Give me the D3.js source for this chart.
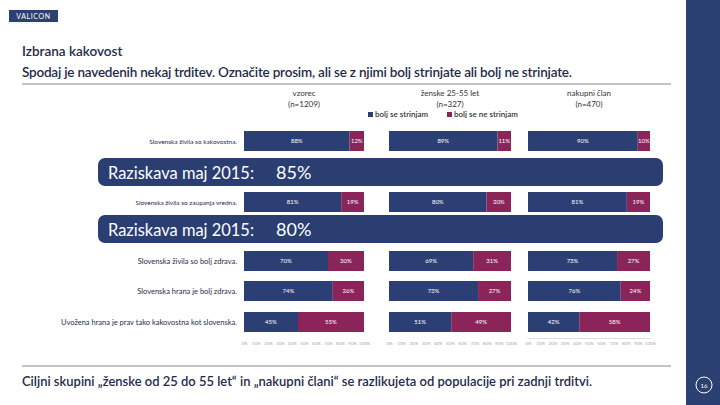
<!DOCTYPE html>
<html>
<head>
<meta charset="utf-8">
<script src="https://cdn.jsdelivr.net/npm/d3@7"></script>
<style>
  body { margin: 0; background: #fff; }
  svg { display: block; font-family: Lato, "Open Sans", sans-serif; }
</style>
</head>
<body>
<svg width="720" height="405"></svg>
<script>
const categories = [
  'Slovenska živila so kakovostna.',
  'Slovenska živila so zaupanja vredna.',
  'Slovenska živila so bolj zdrava.',
  'Slovenska hrana je bolj zdrava.',
  'Uvožena hrana je prav tako kakovostna kot slovenska.'
];
const groups = ['vzorec', 'ženske 25-55 let', 'nakupni član'];
const groupN = ['(n=1209)', '(n=327)', '(n=470)'];
const agreeVzorec = [88, 81, 70, 74, 45];
const disagreeVzorec = [12, 19, 30, 26, 55];
const agreeZenske = [89, 80, 69, 73, 51];
const disagreeZenske = [11, 20, 31, 27, 49];
const agreeNakupni = [90, 81, 73, 76, 42];
const disagreeNakupni = [10, 19, 27, 24, 58];
const seriesNames = ['bolj se strinjam', 'bolj se ne strinjam'];
const survey2015 = ['85%', '80%'];
const ticks = [0, 10, 20, 30, 40, 50, 60, 70, 80, 90, 100];

const navy = '#2c3f74';
const wine = '#8a2459';
const ink = '#1f2b4b';

const svg = d3.select('svg');

// sidebar and logo
svg.append('rect').attr('x', 686).attr('y', 0).attr('width', 34).attr('height', 405).attr('fill', '#2b4171');
svg.append('circle').attr('cx', 704).attr('cy', 385).attr('r', 8)
  .attr('fill', 'none').attr('stroke', '#fff').attr('stroke-width', 1);
svg.append('text').attr('x', 704).attr('y', 387.5).attr('text-anchor', 'middle')
  .attr('font-size', 6).attr('fill', '#fff').text('16');
svg.append('rect').attr('x', 9).attr('y', 10).attr('width', 49).attr('height', 12).attr('fill', '#2b4171');
svg.append('text').attr('x', 33.5).attr('y', 19).attr('text-anchor', 'middle')
  .attr('font-size', 7).attr('fill', '#fff').attr('letter-spacing', 0.6).text('VALICON');

// titles
svg.append('text').attr('x', 22).attr('y', 56).attr('font-size', 13.5).attr('font-weight', 600)
  .attr('fill', ink).text('Izbrana kakovost');
svg.append('text').attr('x', 22).attr('y', 77).attr('font-size', 13.5).attr('font-weight', 600)
  .attr('fill', ink).attr('textLength', 550).attr('lengthAdjust', 'spacing')
  .text('Spodaj je navedenih nekaj trditev. Označite prosim, ali se z njimi bolj strinjate ali bolj ne strinjate.');
svg.append('line').attr('x1', 22).attr('x2', 671).attr('y1', 84).attr('y2', 84)
  .attr('stroke', '#888').attr('stroke-width', 1);

// bottom note
svg.append('line').attr('x1', 22).attr('x2', 671).attr('y1', 366).attr('y2', 366)
  .attr('stroke', '#888').attr('stroke-width', 1);
svg.append('text').attr('x', 22).attr('y', 386).attr('font-size', 13).attr('font-weight', 600)
  .attr('fill', ink).attr('textLength', 570).attr('lengthAdjust', 'spacingAndGlyphs')
  .text('Ciljni skupini „ženske od 25 do 55 let“ in „nakupni člani“ se razlikujeta od populacije pri zadnji trditvi.');

// row positions (rows 1-2 are spread out to make room for the 2015 banners)
const y = d3.scaleOrdinal().domain(categories).range([141, 202, 261, 291, 322]);
const barH = 20;

const panels = [
  { name: groups[0], n: groupN[0], agree: agreeVzorec, disagree: disagreeVzorec, range: [244, 364] },
  { name: groups[1], n: groupN[1], agree: agreeZenske, disagree: disagreeZenske, range: [389, 511] },
  { name: groups[2], n: groupN[2], agree: agreeNakupni, disagree: disagreeNakupni, range: [528, 650] }
];

panels.forEach((p, pi) => {
  const x = d3.scaleLinear().domain([0, 100]).range(p.range);
  const g = svg.append('g');
  const cx = (p.range[0] + p.range[1]) / 2;
  g.append('text').attr('x', cx).attr('y', 96).attr('text-anchor', 'middle')
    .attr('font-size', 8).attr('fill', '#333').text(p.name);
  g.append('text').attr('x', cx).attr('y', 107).attr('text-anchor', 'middle')
    .attr('font-size', 8).attr('fill', '#333').text(p.n);

  const rows = categories.map((c, i) => ({ c, a: p.agree[i], d: p.disagree[i] }));
  g.selectAll('.agree').data(rows).enter().append('rect')
    .attr('x', x(0)).attr('y', d => y(d.c) - barH / 2)
    .attr('width', d => x(d.a) - x(0)).attr('height', barH).attr('fill', navy);
  g.selectAll('.disagree').data(rows).enter().append('rect')
    .attr('x', d => x(d.a)).attr('y', d => y(d.c) - barH / 2)
    .attr('width', d => x(d.a + d.d) - x(d.a)).attr('height', barH).attr('fill', wine);
  g.selectAll('.la').data(rows).enter().append('text')
    .attr('x', d => x(d.a / 2)).attr('y', d => y(d.c) + 2)
    .attr('text-anchor', 'middle').attr('font-size', 6).attr('fill', '#fff')
    .text(d => d.a + '%');
  g.selectAll('.ld').data(rows).enter().append('text')
    .attr('x', d => x(d.a + d.d / 2)).attr('y', d => y(d.c) + 2)
    .attr('text-anchor', 'middle').attr('font-size', 6).attr('fill', '#fff')
    .text(d => d.d + '%');

  const ax = g.append('g').attr('transform', 'translate(0,338)')
    .call(d3.axisBottom(x).tickValues(ticks).tickFormat(t => t + '%').tickSize(0).tickPadding(4));
  ax.select('.domain').attr('stroke', pi === 2 ? '#ddd' : 'none');
  ax.selectAll('text').attr('font-size', 4.5).attr('fill', '#aaa').attr('font-family', 'Lato, sans-serif');
});

// category labels
svg.selectAll('.cat').data(categories).enter().append('text')
  .attr('x', 237).attr('y', d => y(d) + 2.5).attr('text-anchor', 'end')
  .attr('font-size', (d, i) => (i < 2 ? 6.5 : 7.5)).attr('fill', ink)
  .text(d => d);

// legend
const legend = svg.append('g').attr('transform', 'translate(368,117)');
seriesNames.forEach((s, i) => {
  const lx = i === 0 ? 0 : 79;
  legend.append('rect').attr('x', lx).attr('y', -5).attr('width', 5).attr('height', 5)
    .attr('fill', i === 0 ? navy : wine);
  legend.append('text').attr('x', lx + 7).attr('y', 0).attr('font-size', 8).attr('font-weight', 600)
    .attr('fill', '#333').text(s);
});

// 2015 banners
const bannerY = [158, 215];
survey2015.forEach((v, i) => {
  svg.append('rect').attr('x', 98).attr('y', bannerY[i]).attr('width', 565).attr('height', 28)
    .attr('rx', 7).attr('fill', '#2a3e72');
  svg.append('text').attr('x', 108).attr('y', bannerY[i] + 21).attr('font-size', 18)
    .attr('fill', '#fff').attr('textLength', 146).attr('lengthAdjust', 'spacingAndGlyphs')
    .text('Raziskava maj 2015:');
  svg.append('text').attr('x', 276).attr('y', bannerY[i] + 21).attr('font-size', 18)
    .attr('fill', '#fff').text(v);
});
</script>
</body>
</html>
